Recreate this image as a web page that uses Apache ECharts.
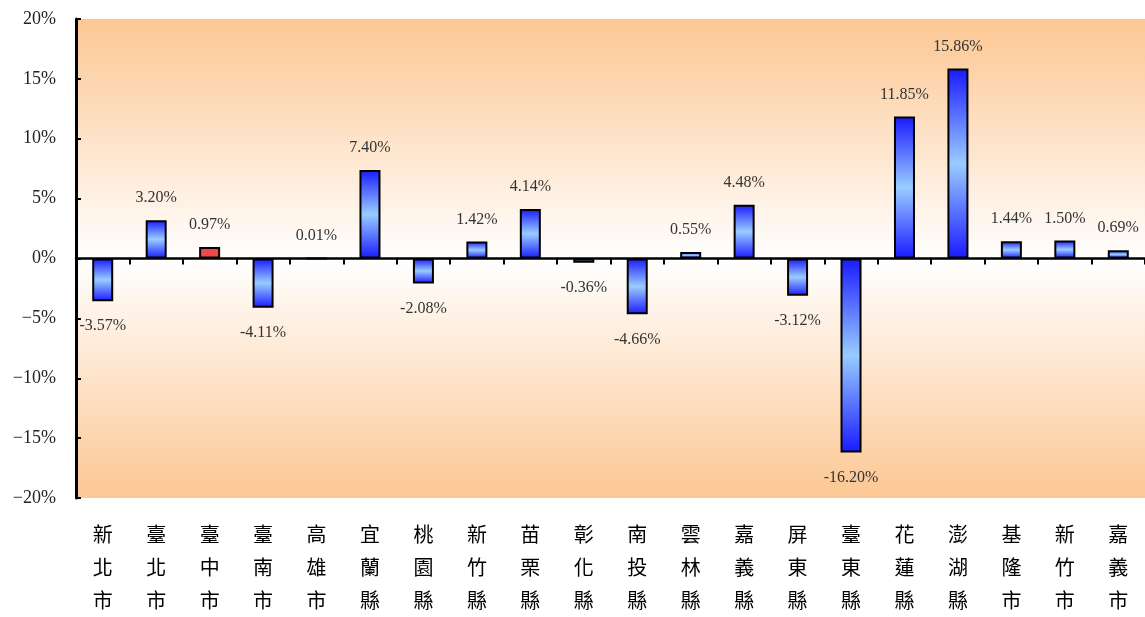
<!DOCTYPE html>
<html><head><meta charset="utf-8">
<script src="https://cdn.jsdelivr.net/npm/echarts@6/dist/echarts.min.js"></script>
<style>html,body{margin:0;padding:0;background:#fff}#c{width:1145px;height:617px}</style>
</head><body><div id="c"></div>
<script>
const categories = ['新北市','臺北市','臺中市','臺南市','高雄市','宜蘭縣','桃園縣','新竹縣','苗栗縣','彰化縣','南投縣','雲林縣','嘉義縣','屏東縣','臺東縣','花蓮縣','澎湖縣','基隆市','新竹市','嘉義市'];
const values = [-3.57,3.20,0.97,-4.11,0.01,7.40,-2.08,1.42,4.14,-0.36,-4.66,0.55,4.48,-3.12,-16.20,11.85,15.86,1.44,1.50,0.69];
const highlightIndex = 2;
const yTicks = [-20,-15,-10,-5,0,5,10,15,20];

const blueGrad = {type:'linear',x:0,y:0,x2:0,y2:1,colorStops:[
  {offset:0,color:'#1a1aff'},{offset:0.5,color:'#99ccff'},{offset:1,color:'#1a1aff'}]};
const chart = echarts.init(document.getElementById('c'));
chart.setOption({
  animation:false,
  grid:{left:76,top:19,right:0,bottom:116,show:true,borderWidth:0,
    backgroundColor:{type:'linear',x:0,y:0,x2:0,y2:1,colorStops:[
      {offset:0,color:'#fcc793'},{offset:0.503,color:'#ffffff'},{offset:1,color:'#fcc793'}]}},
  xAxis:[{
    type:'category',data:categories,
    axisLine:{onZero:true,lineStyle:{color:'#000',width:2.5}},
    axisTick:{show:true,length:6,lineStyle:{color:'#000',width:2}},
    axisLabel:{show:false},splitLine:{show:false}
  },{
    type:'category',data:categories,position:'bottom',
    axisLine:{show:false,onZero:false},axisTick:{show:false},
    axisLabel:{margin:20,fontFamily:'Noto Sans CJK TC',fontSize:20,lineHeight:33,color:'#000',
      formatter:v=>v.split('').join('\n')}
  }],
  yAxis:{type:'value',min:yTicks[0],max:yTicks[yTicks.length-1],interval:5,
    axisLine:{show:true,onZero:false,lineStyle:{color:'#000',width:3}},
    axisTick:{show:true,inside:true,length:5,lineStyle:{color:'#000',width:2}},
    splitLine:{show:false},
    axisLabel:{margin:20,fontFamily:'Liberation Serif',fontSize:18,color:'#222',
      formatter:v=>(v<0?'\u2212'+Math.abs(v):v)+'%'}
  },
  series:[{
    type:'bar',xAxisIndex:0,barWidth:21,
    data:values.map((v,i)=>({value:v,
      itemStyle:{color:i===highlightIndex?'#f24848':blueGrad,borderColor:'#000',borderWidth:2},
      label:{position:v<0?'bottom':'top',distance:v<0?17:14}})),
    label:{show:true,fontFamily:'Liberation Serif',fontSize:16,color:'#333',
      formatter:p=>p.value.toFixed(2)+'%'}
  }]
});
</script></body></html>
